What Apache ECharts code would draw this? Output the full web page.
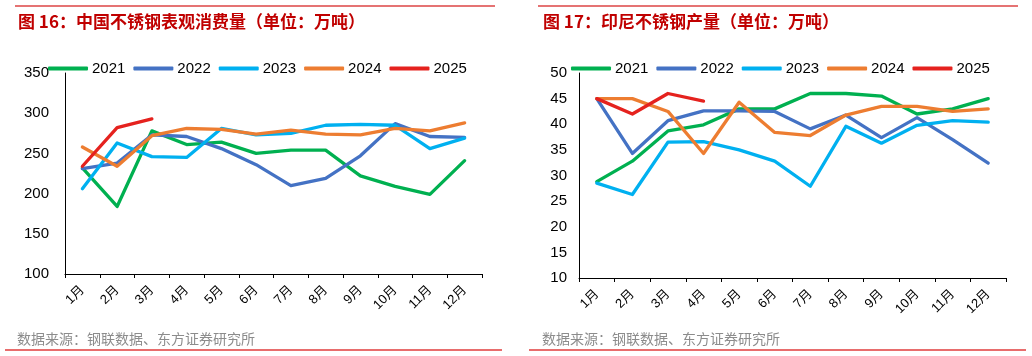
<!DOCTYPE html>
<html lang="zh-CN"><head><meta charset="utf-8">
<script src="https://cdn.jsdelivr.net/npm/echarts@6/dist/echarts.min.js"></script>
<style>html,body{margin:0;padding:0;background:#fff}#c{width:1032px;height:356px}</style>
</head><body><div id="c"></div>
<script>
const months = ['1月','2月','3月','4月','5月','6月','7月','8月','9月','10月','11月','12月'];
const years = ['2021','2022','2023','2024','2025'];
const colors = ['#00B050','#4472C4','#00B0F0','#ED7D31','#E5221E'];
// 图16 中国不锈钢表观消费量
const cn2021 = [232,184,278,261,264,250,254,254,222,209,199,241];
const cn2022 = [231,238,273,271,256,236,210,219,247,287,271,270];
const cn2023 = [206,263,246,245,281,273,275,285,286,285,256,269];
const cn2024 = [258,234,272,281,280,274,279,274,273,281,278,288];
const cn2025 = [234,282,293];
// 图17 印尼不锈钢产量
const id2021 = [28.8,32.8,38.7,39.9,43.0,43.0,46.0,46.0,45.5,42.0,43.0,45.0];
const id2022 = [45.0,34.3,40.7,42.6,42.6,42.5,39.1,41.8,37.4,41.3,37.0,32.4];
const id2023 = [28.5,26.3,36.5,36.6,35.0,32.8,27.9,39.6,36.3,39.8,40.7,40.4];
const id2024 = [45.0,45.0,42.5,34.3,44.3,38.4,37.8,41.8,43.5,43.5,42.5,43.0];
const id2025 = [45.0,42.0,46.0,44.5];

const FONT = '"Liberation Sans", Arial, "Noto Sans CJK SC", sans-serif';
const CJK = '"Noto Sans CJK SC", sans-serif';
const cnData = [cn2021,cn2022,cn2023,cn2024,cn2025];
const idData = [id2021,id2022,id2023,id2024,id2025];

function mkSeries(data, idx){
  return data.map((d,i)=>({
    name: years[i], type:'line', xAxisIndex: idx, yAxisIndex: idx,
    data: d, symbol:'none', smooth:false,
    lineStyle:{width:3.3, color:colors[i], cap:'round', join:'round'},
    itemStyle:{color:colors[i]}, z: 10+i
  }));
}
function xAx(idx){
  return {type:'category', gridIndex: idx, data: months, boundaryGap:true,
    axisLine:{lineStyle:{color:'#000', width:1}},
    axisTick:{show:true, alignWithLabel:false, length:4, lineStyle:{color:'#000'}},
    axisLabel:{rotate:45, fontSize:13, color:'#000', margin:14, fontFamily:FONT, interval:0},
    splitLine:{show:false}};
}
function yAx(idx, min, max, step, margin){
  return {type:'value', gridIndex: idx, min:min, max:max, interval:step,
    axisLine:{show:true, lineStyle:{color:'#000', width:1}},
    axisTick:{show:false},
    axisLabel:{fontSize:15, color:'#000', margin:margin, fontFamily:FONT},
    splitLine:{show:false}};
}
const legendBase = {data: years, itemWidth:40, itemHeight:4, icon:'roundRect', itemGap:8,
  textStyle:{fontSize:15, color:'#000', fontFamily:FONT, padding:[0,0,0,-1]}, top:56};
const titleStyle = {color:'#C00000', fontSize:17, fontWeight:'bold', fontFamily:CJK};
const srcStyle = {color:'#8C8C8C', fontSize:14, fontWeight:'normal', fontFamily:CJK};

const chart = echarts.init(document.getElementById('c'), null, {renderer:'canvas'});
chart.setOption({
  animation:false,
  color: colors,
  title:[
    {text:'图 16：中国不锈钢表观消费量（单位：万吨）', left:13, top:8, textStyle:titleStyle},
    {text:'图 17：印尼不锈钢产量（单位：万吨）', left:538, top:8, textStyle:titleStyle},
    {text:'数据来源：钢联数据、东方证券研究所', left:12, top:327, textStyle:srcStyle},
    {text:'数据来源：钢联数据、东方证券研究所', left:537, top:327, textStyle:srcStyle}
  ],
  legend:[
    Object.assign({}, legendBase, {left:43}),
    Object.assign({}, legendBase, {left:566})
  ],
  grid:[
    {left:65, right:550, top:73, bottom:82},
    {left:579, right:26, top:73, bottom:78}
  ],
  xAxis:[xAx(0), xAx(1)],
  yAxis:[yAx(0,100,350,50,16), yAx(1,10,50,5,12)],
  series: mkSeries(cnData,0).concat(mkSeries(idData,1)),
  graphic:[
    {type:'line', shape:{x1:15,y1:6,x2:495,y2:6}, style:{stroke:'#E57373', lineWidth:2}},
    {type:'line', shape:{x1:538,y1:6,x2:1018,y2:6}, style:{stroke:'#E57373', lineWidth:2}},
    {type:'line', shape:{x1:5,y1:350,x2:502,y2:350}, style:{stroke:'#E03C3C', lineWidth:1.5}},
    {type:'line', shape:{x1:529,y1:350,x2:1026,y2:350}, style:{stroke:'#E03C3C', lineWidth:1.5}}
  ]
});
</script></body></html>
